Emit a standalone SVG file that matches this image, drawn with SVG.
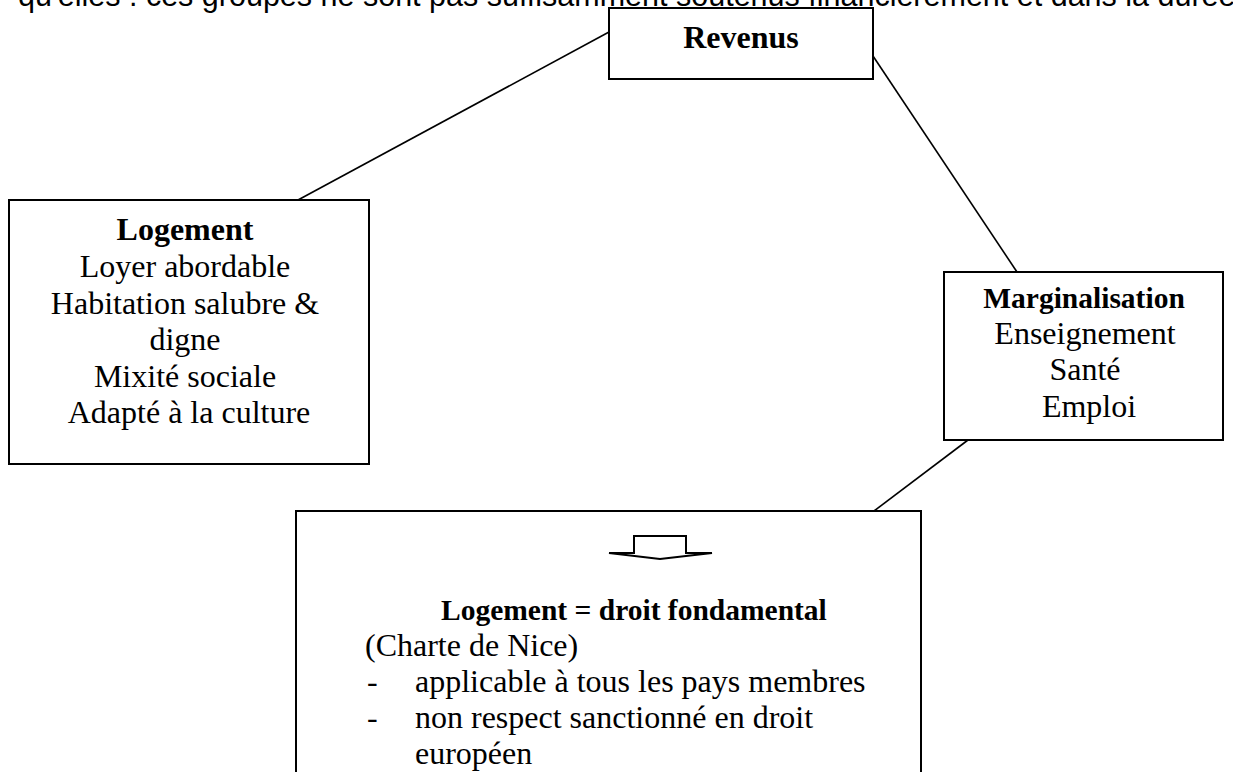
<svg xmlns="http://www.w3.org/2000/svg" width="1233" height="772" viewBox="0 0 1233 772">
<style>
.box{fill:#fff;stroke:#000;stroke-width:2}
.t{font-family:"Liberation Serif","Times New Roman",serif;font-size:32px;fill:#000}
.b{font-weight:bold}
.s{font-size:29.5px}
.c{text-anchor:middle}
.con line{stroke:#000;stroke-width:1.6}
.top{font-family:"Liberation Sans",Arial,sans-serif;font-size:30.5px;fill:#000}
</style>
<rect width="1233" height="772" fill="#fff"/>
<text class="top" x="18" y="6">qu'elles : ces groupes ne sont pas suffisamment soutenus financièrement et dans la durée</text>
<g id="connectors" class="con">
<line x1="298" y1="200" x2="609" y2="32"/>
<line x1="873" y1="56" x2="1017" y2="272"/>
<line x1="968" y1="440" x2="874" y2="511"/>
</g>
<g id="revenus">
<rect class="box" x="609" y="8" width="264" height="71"/>
<text class="t b c" x="741" y="48">Revenus</text>
</g>
<g id="logement">
<rect class="box" x="9" y="200" width="360" height="264"/>
<text class="t c" x="189">
<tspan class="b" x="189" y="240">Logement</tspan>
<tspan x="189" y="277">Loyer abordable</tspan>
<tspan x="189" y="314">Habitation salubre &amp;</tspan>
<tspan x="189" y="350">digne</tspan>
<tspan x="189" y="387">Mixité sociale</tspan>
<tspan x="189" y="423">Adapté à la culture</tspan>
</text>
</g>
<g id="marginalisation">
<rect class="box" x="944" y="272" width="279" height="168"/>
<text class="t c" x="1088">
<tspan class="b s" x="1088" y="308">Marginalisation</tspan>
<tspan x="1089" y="344">Enseignement</tspan>
<tspan x="1089" y="380">Santé</tspan>
<tspan x="1089" y="417">Emploi</tspan>
</text>
</g>
<g id="droit">
<rect class="box" x="296" y="511" width="625" height="300"/>
<polygon points="634,553 634,536 686,536 686,553 712,553 660,559 609,553" fill="#fff" stroke="#000" stroke-width="2" stroke-linejoin="miter"/>
<text class="t b s" x="441" y="620">Logement = droit fondamental</text>
<text class="t" x="365" y="656">(Charte de Nice)</text>
<text class="t" x="367" y="692">-</text>
<text class="t" x="415" y="692">applicable à tous les pays membres</text>
<text class="t" x="367" y="728">-</text>
<text class="t" x="415" y="728">non respect sanctionné  en droit</text>
<text class="t" x="415" y="764">européen</text>
</g>
</svg>
